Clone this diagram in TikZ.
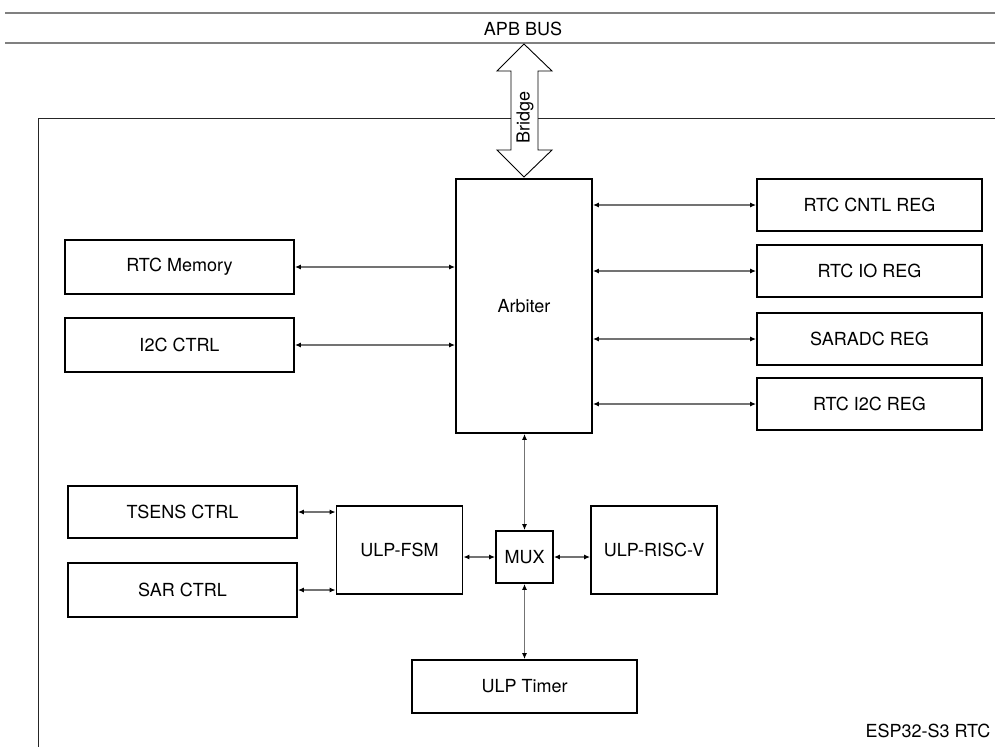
\documentclass[tikz,border=0pt]{standalone}
\usepackage{fontspec}
\setmainfont{TeX Gyre Heros}
\usetikzlibrary{arrows.meta}
\tikzset{
  box/.style={draw=black, line width=1.8pt, fill=white, inner sep=0pt, font=\fontsize{18}{21}\selectfont},
  link/.style={draw=black!55, line width=1.3pt, {Latex[length=6pt,width=5pt,black]}-{Latex[length=6pt,width=5pt,black]}},
  busline/.style={draw=black!50, line width=1.8pt},
  frameline/.style={draw=black!85, line width=0.9pt},
  lbl/.style={font=\fontsize{18}{21}\selectfont, inner sep=0pt}
}
\begin{document}
\begin{tikzpicture}[x=1pt,y=-1pt]
\useasboundingbox (0,0) rectangle (995,747);
% bus
\draw[busline] (5,13) -- (995,13);
\draw[busline] (5,43) -- (995,43);
\node[lbl] (apb) at (523,29) {APB BUS};
% frame
\draw[frameline] (995,118) -- (38,118) -- (38,747);
% bridge arrow
\draw[fill=white, line width=0.9pt] (524,44) -- (552,71) -- (538,71) -- (538,150) -- (552,150) -- (524,177) -- (497,150) -- (511,150) -- (511,71) -- (497,71) -- cycle;
\node[lbl, rotate=90] (bridge) at (525,117) {Bridge};
% boxes
\node[box, minimum width=136pt, minimum height=254pt] (arb) at (524,306) {Arbiter};
\node[box, minimum width=229pt, minimum height=54pt] (mem) at (179.5,267) {RTC Memory};
\node[box, minimum width=229pt, minimum height=54pt] (i2c) at (179.5,345) {I2C CTRL};
\node[box, minimum width=225pt, minimum height=52pt] (cntl) at (869.5,205) {RTC CNTL REG};
\node[box, minimum width=225pt, minimum height=52pt] (io) at (869.5,271) {RTC IO REG};
\node[box, minimum width=225pt, minimum height=52pt] (sar) at (869.5,339) {SARADC REG};
\node[box, minimum width=225pt, minimum height=52pt] (ri2c) at (869.5,404) {RTC I2C REG};
\node[box, minimum width=229pt, minimum height=52pt] (tsens) at (182.5,512) {TSENS CTRL};
\node[box, minimum width=229pt, minimum height=54pt] (sarc) at (182.5,590) {SAR CTRL};
\node[box, minimum width=126pt, minimum height=88pt] (fsm) at (399.5,550) {ULP-FSM};
\node[box, minimum width=57pt, minimum height=52pt] (mux) at (524.5,557) {MUX};
\node[box, minimum width=126pt, minimum height=88pt] (risc) at (654,550) {ULP-RISC-V};
\node[box, minimum width=225pt, minimum height=53pt] (timer) at (524.5,686.5) {ULP Timer};
\node[lbl] (chip) at (928,731) {ESP32-S3 RTC};
% links
\draw[link] (mem.east) -- (mem.east -| arb.west);
\draw[link] (i2c.east) -- (i2c.east -| arb.west);
\draw[link] (cntl.west -| arb.east) -- (cntl.west);
\draw[link] (io.west -| arb.east) -- (io.west);
\draw[link] (sar.west -| arb.east) -- (sar.west);
\draw[link] (ri2c.west -| arb.east) -- (ri2c.west);
\draw[link] (tsens.east) -- (tsens.east -| fsm.west);
\draw[link] (sarc.east) -- (sarc.east -| fsm.west);
\draw[link] (mux.west -| fsm.east) -- (mux.west);
\draw[link] (mux.east) -- (mux.east -| risc.west);
\draw[link] (arb.south -| mux.north) -- (mux.north);
\draw[link] (mux.south) -- (timer.north -| mux.south);
\end{tikzpicture}
\end{document}
